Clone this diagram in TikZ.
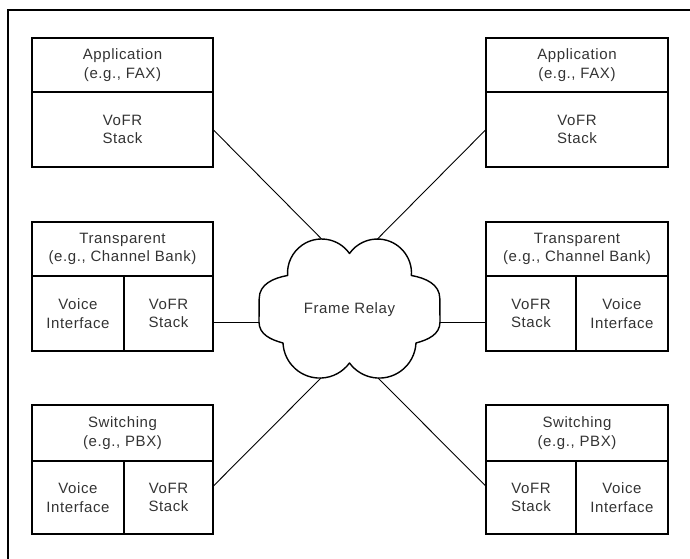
\documentclass[tikz,border=0pt]{standalone}
\usepackage{fontspec}
\setmainfont{Liberation Sans}
\newfontfamily\labelfont[LetterSpace=4]{Liberation Sans}
\begin{document}
\begin{tikzpicture}[x=1pt,y=1pt,
  cell/.style n args={2}{draw=black, line width=1.4pt, inner sep=0pt, outer sep=0pt,
    minimum width=#1, minimum height=#2, align=center, text=black!80,
    font=\labelfont\fontsize{15}{18.5}\selectfont},
  frameline/.style={line width=2pt},
  link/.style={line width=0.9pt},
  cloudline/.style={line width=1.4pt, line join=round}
]
\useasboundingbox (0,0) rectangle (690,558);
% outer frame (left and top edges)
\draw[frameline] (8,-5) -- (8,548) -- (695,548);

% Application (FAX) end points
\node[cell={181}{54}] (tlapp)   at (122.5,493)   {Application\\(e.g., FAX)};
\node[cell={181}{75}] (tlstack) at (122.5,428.5) {VoFR\\Stack};
\node[cell={182}{54}] (trapp)   at (577,493)     {Application\\(e.g., FAX)};
\node[cell={182}{75}] (trstack) at (577,428.5)   {VoFR\\Stack};

% transparent (channel bank) end points
\node[cell={181}{54}] (mltop)   at (122.5,309)   {Transparent\\(e.g., Channel Bank)};
\node[cell={92}{75}]  (mlvoice) at (78,244.5)    {Voice\\Interface};
\node[cell={89}{75}]  (mlstack) at (168.5,244.5) {VoFR\\Stack};
\node[cell={182}{54}] (mrtop)   at (577,309)     {Transparent\\(e.g., Channel Bank)};
\node[cell={90}{75}]  (mrstack) at (531,244.5)   {VoFR\\Stack};
\node[cell={92}{75}]  (mrvoice) at (622,244.5)   {Voice\\Interface};

% switching (PBX) end points
\node[cell={181}{56}] (bltop)   at (122.5,125)   {Switching\\(e.g., PBX)};
\node[cell={92}{73}]  (blvoice) at (78,60.5)     {Voice\\Interface};
\node[cell={89}{73}]  (blstack) at (168.5,60.5)  {VoFR\\Stack};
\node[cell={182}{56}] (brtop)   at (577,125)     {Switching\\(e.g., PBX)};
\node[cell={90}{73}]  (brstack) at (531,60.5)    {VoFR\\Stack};
\node[cell={92}{73}]  (brvoice) at (622,60.5)    {Voice\\Interface};

% Frame Relay cloud
\begin{scope}[shift={(349.5,249.5)}]
  \draw[cloudline] (0,55) arc[start angle=35.1, end angle=184, radius=34.1]
    to[out=190,in=90] (-90.3,10) -- (-90.5,-13.5) to[out=-90,in=165] (-66.5,-34.5)
    arc[start angle=182.7, end angle=323.9, radius=36.8]
    arc[start angle=216.1, end angle=357.3, radius=36.8]
    to[out=15,in=-90] (90.5,-13.5) -- (90.3,10) to[out=90,in=-10] (61.9,33)
    arc[start angle=-4, end angle=145, radius=34.1] -- cycle;
  \node[text=black!80, font=\labelfont\fontsize{15}{18.5}\selectfont] (cloud) at (0,-1) {Frame Relay};
  \coordinate (ctl) at (-27.9,69.5);
  \coordinate (ctr) at (27.9,69.5);
  \coordinate (cl)  at (-90.5,-13.5);
  \coordinate (cr)  at (90.5,-14);
  \coordinate (cbl) at (-28.5,-69.5);
  \coordinate (cbr) at (28.5,-69.5);
\end{scope}

% links into the cloud
\draw[link] (tlstack.east) -- (ctl);
\draw[link] (trstack.west) -- (ctr);
\draw[link] (mlstack.east |- cl) -- (cl);
\draw[link] (mrstack.west |- cr) -- (cr);
\draw[link] (blstack.14.5) -- (cbl);
\draw[link] (brstack.166.9) -- (cbr);
\end{tikzpicture}
\end{document}
